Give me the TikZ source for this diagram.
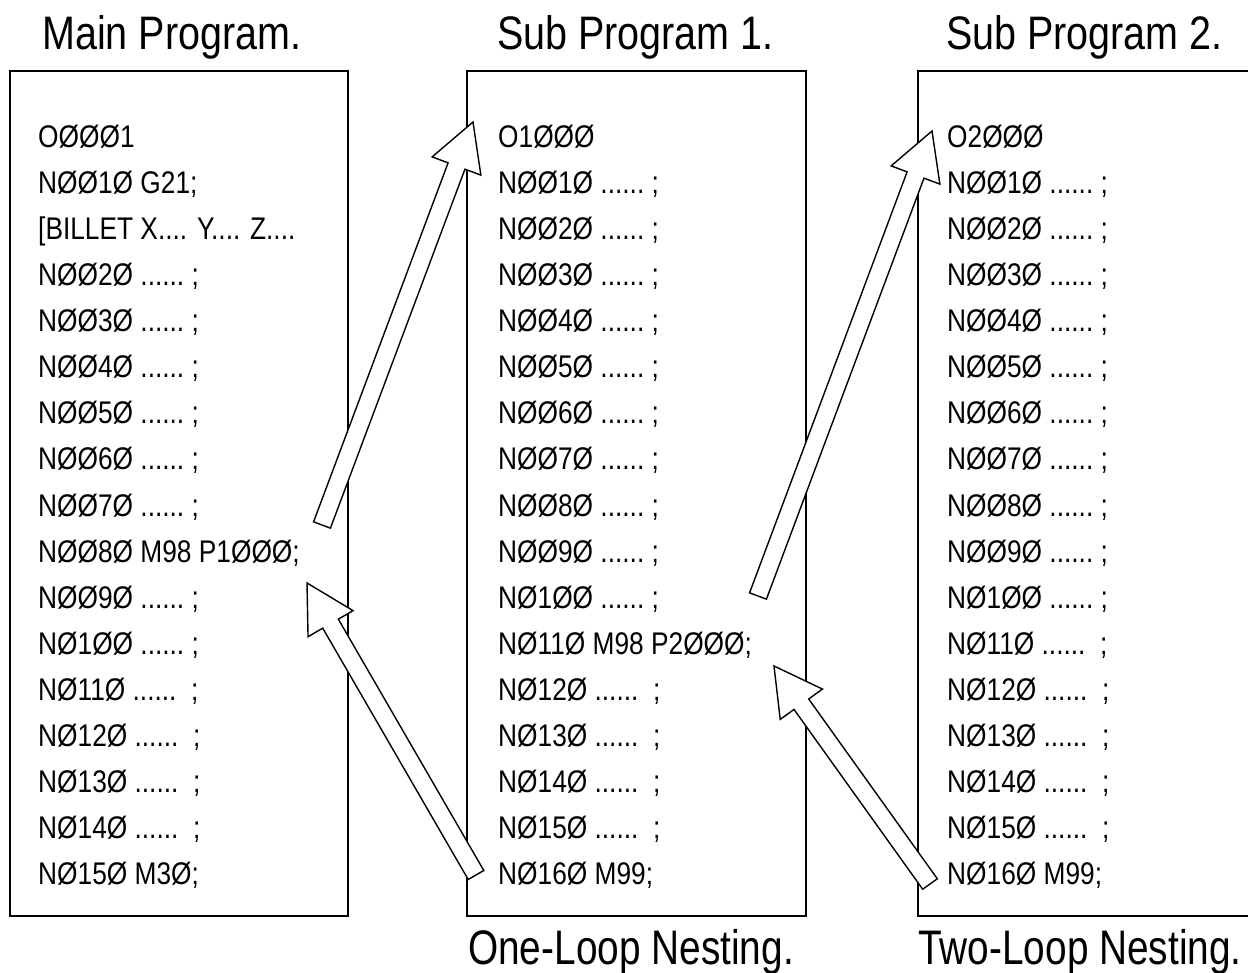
\documentclass[tikz,border=0pt]{standalone}
\usepackage{fontspec}
\setmainfont[FakeStretch=0.84]{Liberation Sans}
\newfontfamily\narrowfont[FakeStretch=0.80]{Liberation Sans}
\usetikzlibrary{calc}

\newcommand\dotrun{......}
\newcommand\billetline{[BILLET X.... Y.... Z....}

\newcommand\BlockArrow[3]{% #1 name prefix, #2 tail, #3 tip
  \coordinate (#1h) at ($(#3)!47pt!(#2)$);
  \draw[blockarrow]
    ($(#2)!9pt!90:(#3)$) -- ($(#1h)!9pt!90:(#3)$) -- ($(#1h)!26pt!90:(#3)$)
    -- (#3)
    -- ($(#1h)!26pt!-90:(#3)$) -- ($(#1h)!9pt!-90:(#3)$) -- ($(#2)!9pt!-90:(#3)$) -- cycle;
}

\begin{document}
\begin{tikzpicture}[x=1pt,y=-1pt,
  box/.style={draw, line width=2pt},
  codeline/.style={anchor=base west, inner sep=0pt, font=\fontsize{31.3}{31.3}\selectfont},
  titletext/.style={anchor=base west, inner sep=0pt, font=\fontsize{47}{47}\selectfont},
  captiontext/.style={anchor=base west, inner sep=0pt, font=\narrowfont\fontsize{48.5}{48.5}\selectfont},
  blockarrow/.style={draw, fill=white, line width=1.4pt, line join=miter}]

\useasboundingbox (0,0) rectangle (1248,973);
\clip (0,0) rectangle (1248,973);

% titles
\node[titletext] (tmain) at (42,50) {Main Program.};
\node[titletext] (tsub1) at (497,50) {Sub Program 1.};
\node[titletext] (tsub2) at (946,50) {Sub Program 2.};

% boxes
\draw[box] (10,71) rectangle (348,916);
\draw[box] (467,71) rectangle (806,916);
\draw[box] (918,71) rectangle (1270,916);

% main program lines
\foreach \t [count=\k from 0] in {
  {OØØØ1},{NØØ1Ø G21;},{\billetline},
  {NØØ2Ø \dotrun\ ;},{NØØ3Ø \dotrun\ ;},{NØØ4Ø \dotrun\ ;},{NØØ5Ø \dotrun\ ;},
  {NØØ6Ø \dotrun\ ;},{NØØ7Ø \dotrun\ ;},{NØØ8Ø M98 P1ØØØ;},{NØØ9Ø \dotrun\ ;},
  {NØ1ØØ \dotrun\ ;},{NØ11Ø \dotrun\ \ ;},{NØ12Ø \dotrun\ \ ;},{NØ13Ø \dotrun\ \ ;},
  {NØ14Ø \dotrun\ \ ;},{NØ15Ø M3Ø;}}
  \node[codeline] (m\k) at (38,{148+46*\k}) {\t};

% sub program 1 lines
\foreach \t [count=\k from 0] in {
  {O1ØØØ},{NØØ1Ø \dotrun\ ;},{NØØ2Ø \dotrun\ ;},{NØØ3Ø \dotrun\ ;},{NØØ4Ø \dotrun\ ;},
  {NØØ5Ø \dotrun\ ;},{NØØ6Ø \dotrun\ ;},{NØØ7Ø \dotrun\ ;},{NØØ8Ø \dotrun\ ;},
  {NØØ9Ø \dotrun\ ;},{NØ1ØØ \dotrun\ ;},{NØ11Ø M98 P2ØØØ;},{NØ12Ø \dotrun\ \ ;},
  {NØ13Ø \dotrun\ \ ;},{NØ14Ø \dotrun\ \ ;},{NØ15Ø \dotrun\ \ ;},{NØ16Ø M99;}}
  \node[codeline] (s\k) at (498,{148+46*\k}) {\t};

% sub program 2 lines
\foreach \t [count=\k from 0] in {
  {O2ØØØ},{NØØ1Ø \dotrun\ ;},{NØØ2Ø \dotrun\ ;},{NØØ3Ø \dotrun\ ;},{NØØ4Ø \dotrun\ ;},
  {NØØ5Ø \dotrun\ ;},{NØØ6Ø \dotrun\ ;},{NØØ7Ø \dotrun\ ;},{NØØ8Ø \dotrun\ ;},
  {NØØ9Ø \dotrun\ ;},{NØ1ØØ \dotrun\ ;},{NØ11Ø \dotrun\ \ ;},{NØ12Ø \dotrun\ \ ;},
  {NØ13Ø \dotrun\ \ ;},{NØ14Ø \dotrun\ \ ;},{NØ15Ø \dotrun\ \ ;},{NØ16Ø M99;}}
  \node[codeline] (u\k) at (947,{148+46*\k}) {\t};

% captions
\node[captiontext] (cone) at (468,964) {One-Loop Nesting.};
\node[captiontext] (ctwo) at (918,964) {Two-Loop Nesting.};

% arrow end points, tied to the program lines
\coordinate (aTail) at ($(m9.base west)+(284,-37)$);
\coordinate (aTip)  at ($(s0.base west)+(-25,-26)$);
\coordinate (bTail) at ($(s16.base west)+(-22,-9)$);
\coordinate (bTip)  at ($(m9.base west)+(269,21)$);
\coordinate (cTail) at ($(s11.base west)+(260,-58)$);
\coordinate (cTip)  at ($(u0.base west)+(-15,-17)$);
\coordinate (dTail) at ($(u16.base west)+(-17,0)$);
\coordinate (dTip)  at ($(s11.base west)+(276,12)$);

\BlockArrow{a}{aTail}{aTip}
\BlockArrow{b}{bTail}{bTip}
\BlockArrow{c}{cTail}{cTip}
\BlockArrow{d}{dTail}{dTip}
\end{tikzpicture}
\end{document}
